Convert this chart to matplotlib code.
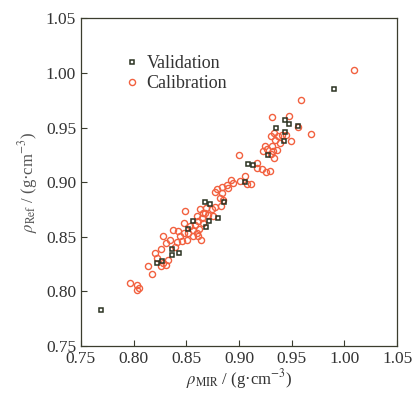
import numpy as np
import matplotlib
matplotlib.use("Agg")
import matplotlib.pyplot as plt

# Validation set (MIR predicted vs reference density)
val_x = [0.7687, 0.990, 0.935, 0.9434, 0.9478, 0.9564, 0.9434, 0.9428, 0.9279,
         0.9089, 0.913, 0.906, 0.8674, 0.8725, 0.8858, 0.8798, 0.856, 0.852,
         0.8687, 0.8719, 0.8367, 0.8427, 0.836, 0.8225, 0.8266]
val_y = [0.7827, 0.9857, 0.9496, 0.9573, 0.953, 0.9518, 0.946, 0.938, 0.9246,
         0.9167, 0.9154, 0.900, 0.8819, 0.8797, 0.8819, 0.8669, 0.8648, 0.8574,
         0.8587, 0.8648, 0.8388, 0.8352, 0.8336, 0.826, 0.8275]

# Calibration set
cal_x = [1.0086, 0.9586, 0.9314, 0.9475, 0.9564, 0.9684, 0.930, 0.9336, 0.9374,
         0.9408, 0.9447, 0.9342, 0.939, 0.9491, 0.931, 0.925, 0.9263, 0.9225,
         0.932, 0.9358, 0.930, 0.9327, 0.900, 0.917, 0.9168, 0.9216, 0.9257,
         0.9292, 0.9057, 0.901, 0.9073, 0.911, 0.8921, 0.894, 0.8883, 0.8899,
         0.8836, 0.8788, 0.8773, 0.8836, 0.882, 0.8852, 0.8826, 0.8776, 0.874,
         0.869, 0.866, 0.863, 0.871, 0.8757, 0.8646, 0.860, 0.8614, 0.8583,
         0.866, 0.8488, 0.848, 0.8535, 0.8567, 0.860, 0.8624, 0.852, 0.848,
         0.8567, 0.8614, 0.8636, 0.8503, 0.844, 0.8424, 0.8377, 0.8456, 0.8409,
         0.8393, 0.8345, 0.8282, 0.8307, 0.8257, 0.8206, 0.8225, 0.8276, 0.8307,
         0.8329, 0.826, 0.8133, 0.8171, 0.7965, 0.8035, 0.8054, 0.8029, 0.8674]
cal_y = [1.003, 0.9756, 0.9597, 0.9603, 0.9502, 0.9441, 0.942, 0.945, 0.942,
         0.9435, 0.9435, 0.939, 0.936, 0.9377, 0.933, 0.9335, 0.9304, 0.9289,
         0.929, 0.9298, 0.926, 0.9225, 0.9252, 0.9176, 0.913, 0.9124, 0.9093,
         0.910, 0.906, 0.901, 0.8983, 0.8983, 0.9023, 0.8993, 0.8974, 0.8947,
         0.8953, 0.8938, 0.8907, 0.890, 0.8855, 0.884, 0.878, 0.8773, 0.875,
         0.8764, 0.8718, 0.875, 0.870, 0.8687, 0.8672, 0.8687, 0.8642, 0.8611,
         0.8626, 0.8733, 0.8626, 0.8596, 0.8565, 0.8535, 0.8571, 0.8535, 0.8535,
         0.8504, 0.8504, 0.8474, 0.8474, 0.8504, 0.855, 0.8565, 0.8458, 0.8449,
         0.8407, 0.8474, 0.851, 0.8443, 0.8388, 0.8352, 0.8306, 0.826, 0.8245,
         0.8291, 0.8236, 0.823, 0.8162, 0.8077, 0.8053, 0.8031, 0.801, 0.8718]

ticks = [0.75, 0.80, 0.85, 0.90, 0.95, 1.00, 1.05]

plt.rcParams['font.family'] = ['Liberation Serif', 'DejaVu Serif']
plt.rcParams['mathtext.fontset'] = 'stix'

axis_col = '#3b3d2e'
text_col = '#333333'

fig = plt.figure(figsize=(4.15, 3.93), dpi=100)
ax = fig.add_axes([0.195, 0.12, 0.762, 0.833])

ax.plot(val_x, val_y, 's', ms=3.4, mfc='none', mec='#2b3322', mew=1.1,
        label='Validation', zorder=3)
ax.plot(cal_x, cal_y, 'o', ms=4.4, mfc='none', mec='#f2613f', mew=1.0,
        label='Calibration', zorder=2)

ax.set_xlim(0.75, 1.05)
ax.set_ylim(0.75, 1.05)
ax.set_xticks(ticks)
ax.set_yticks(ticks)
ax.set_xticklabels(['%.2f' % t for t in ticks])
ax.set_yticklabels(['%.2f' % t for t in ticks])
ax.tick_params(direction='in', length=4, width=0.8, color=axis_col,
               labelsize=12.5, labelcolor=text_col, top=False, right=False)
ax.tick_params(axis='x', pad=4)
for s in ax.spines.values():
    s.set_color(axis_col)
    s.set_linewidth(0.9)

ax.set_xlabel(r'$\rho_{\mathrm{MIR}}$ / (g·cm$^{-3}$)', fontsize=12,
              color=text_col, labelpad=0)
ax.set_ylabel(r'$\rho_{\mathrm{Ref}}$ / (g·cm$^{-3}$)', fontsize=12,
              color='#555555', labelpad=4)

leg = ax.legend(loc='upper left', bbox_to_anchor=(0.11, 0.91), frameon=False,
                fontsize=13, handletextpad=0.3, labelspacing=0.15,
                handlelength=1.0, borderaxespad=0)
for t in leg.get_texts():
    t.set_color(text_col)

fig.savefig('out.png', dpi=100)
